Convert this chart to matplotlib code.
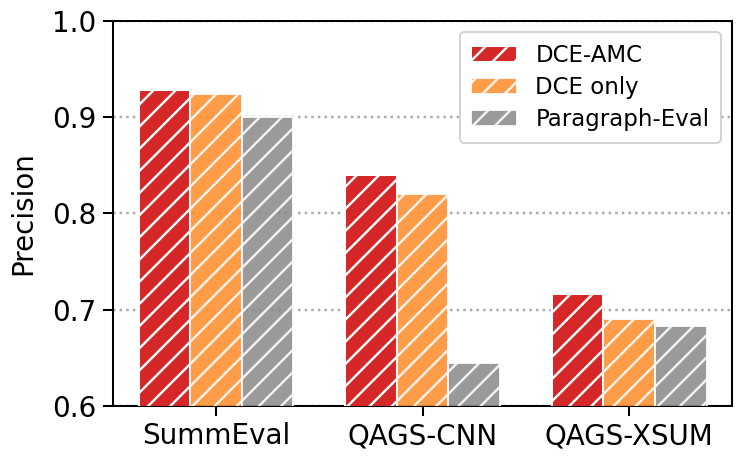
import matplotlib
matplotlib.use("Agg")
import matplotlib.pyplot as plt
import numpy as np

# Данни
datasets = ["SummEval", "QAGS-CNN", "QAGS-XSUM"]
methods = ["DCE-AMC", "DCE only", "Paragraph-Eval"]
dce_amc = [0.928, 0.840, 0.716]
dce_only = [0.924, 0.820, 0.690]
paragraph_eval = [0.900, 0.645, 0.683]
colors = ["#d62728", "#ff8f2e", "#8c8c8c"]
alphas = [1.0, 0.88, 0.88]

plt.rcParams["hatch.color"] = "white"
plt.rcParams["hatch.linewidth"] = 1.3

DPI = 133
fig, ax = plt.subplots(figsize=(742 / DPI, 463 / DPI), dpi=DPI)
fig.subplots_adjust(left=0.152, right=0.987, top=0.955, bottom=0.123)

x = np.arange(len(datasets))
width = 0.25
series = [dce_amc, dce_only, paragraph_eval]
for i, (vals, name) in enumerate(zip(series, methods)):
    ax.bar(x + (i - 1) * width, vals, width, label=name, color=colors[i],
           alpha=alphas[i], edgecolor="white", linewidth=1.1, hatch="//", zorder=3)

ax.set_ylim(0.6, 1.0)
ax.set_xlim(-0.5, 2.5)
ax.set_yticks([0.6, 0.7, 0.8, 0.9, 1.0])
ax.set_xticks(x)
ax.set_xticklabels(datasets)
ax.tick_params(labelsize=15, width=1.1, length=5.3)
ax.set_ylabel("Precision", fontsize=15, labelpad=8)
ax.yaxis.grid(True, linestyle=":", color="#aaaaaa", linewidth=1.35, zorder=0)
for s in ax.spines.values():
    s.set_linewidth(1.1)

ax.legend(loc="upper right", fontsize=12.4, handlelength=2.0, borderpad=0.5,
          labelspacing=0.4, handletextpad=0.8, framealpha=1.0, edgecolor="#d0d0d0")

plt.savefig("out.png", dpi=DPI)
